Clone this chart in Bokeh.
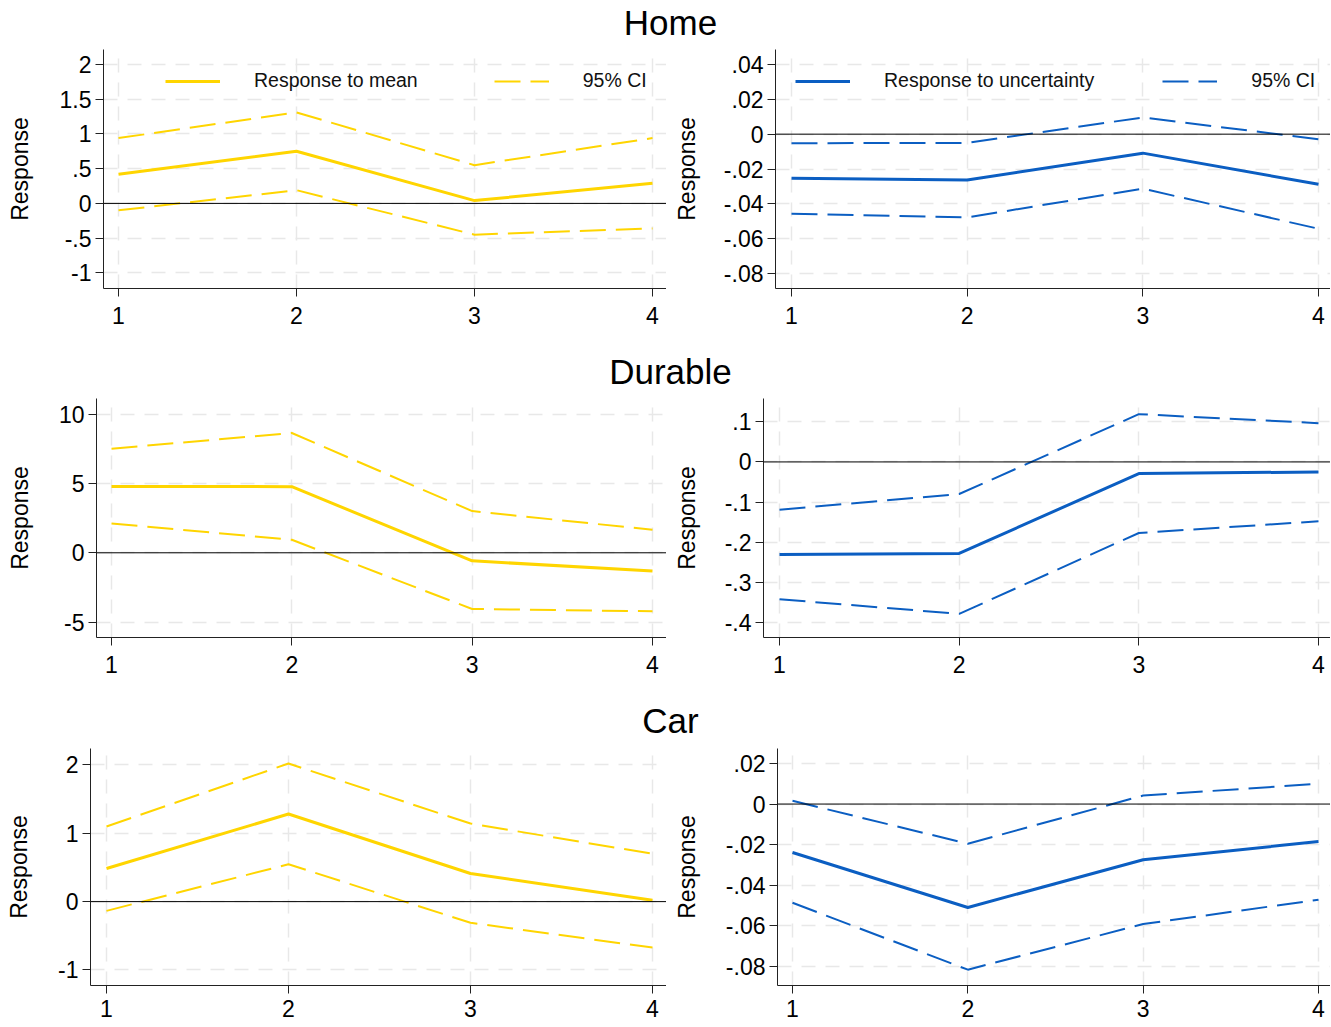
from bokeh.plotting import figure
from bokeh.models import FixedTicker, CustomJSTickFormatter, Span, Legend, LegendItem, Range1d
from bokeh.layouts import column, row
from bokeh.embed import file_html
from bokeh.resources import INLINE
from bokeh.core.properties import value

# ---------------- data ----------------
horizons = [1, 2, 3, 4]
row_titles = ["Home", "Durable", "Car"]

home_mean = [0.42, 0.75, 0.04, 0.29]
home_mean_up = [0.94, 1.31, 0.55, 0.94]
home_mean_lo = [-0.10, 0.19, -0.45, -0.36]

home_unc = [-0.0253, -0.0263, -0.0109, -0.0288]
home_unc_up = [-0.0052, -0.0050, 0.0096, -0.0029]
home_unc_lo = [-0.0457, -0.0478, -0.0313, -0.0543]

dur_mean = [4.79, 4.77, -0.58, -1.32]
dur_mean_up = [7.51, 8.64, 3.01, 1.66]
dur_mean_lo = [2.12, 0.94, -4.05, -4.22]

dur_unc = [-0.2305, -0.228, -0.029, -0.025]
dur_unc_up = [-0.119, -0.080, 0.119, 0.0965]
dur_unc_lo = [-0.342, -0.3785, -0.177, -0.148]

car_mean = [0.484, 1.282, 0.411, 0.019]
car_mean_up = [1.098, 2.02, 1.142, 0.70]
car_mean_lo = [-0.135, 0.547, -0.31, -0.672]

car_unc = [-0.0239, -0.051, -0.0275, -0.0185]
car_unc_up = [0.0016, -0.0196, 0.0042, 0.010]
car_unc_lo = [-0.0487, -0.0817, -0.0592, -0.0472]

ticks_home_mean = [-1, -0.5, 0, 0.5, 1, 1.5, 2]
ticks_home_unc = [-0.08, -0.06, -0.04, -0.02, 0, 0.02, 0.04]
ticks_dur_mean = [-5, 0, 5, 10]
ticks_dur_unc = [-0.4, -0.3, -0.2, -0.1, 0, 0.1]
ticks_car_mean = [-1, 0, 1, 2]
ticks_car_unc = [-0.08, -0.06, -0.04, -0.02, 0, 0.02]

legend_mean_label = "Response to mean"
legend_unc_label = "Response to uncertainty"
legend_ci_label = "95% CI"
y_label = "Response"

# ---------------- style ----------------
FONT = "Liberation Sans"
YELLOW = "#FFD500"
BLUE = "#0B5EC2"
GRID = "#e8e8e8"
AXIS = "#222222"
TICK_PX = 23
LEFT_W, RIGHT_W = 666, 664

CHAR_W = {"0": .556, "1": .556, "2": .556, "3": .556, "4": .556, "5": .556,
          "6": .556, "7": .556, "8": .556, "9": .556, ".": .278, "-": .333}


def stata_label(v):
    s = ("%g" % v)
    if s.startswith("0."):
        s = s[1:]
    elif s.startswith("-0."):
        s = "-" + s[2:]
    return s


def label_width(ticks):
    return max(sum(CHAR_W.get(c, .556) for c in stata_label(t)) for t in ticks) * TICK_PX


fmt_code = """
var s = String(Math.round(tick*1e6)/1e6);
return s.replace(/^(-?)0\\./, "$1.");
"""


def make_panel(side, frame_geom, ticks, yr, mean, up, lo, color, height, top, bottom, xstand=10,
               legend_label=None, spacing=70):
    # frame_geom: (frame left px, px of x=1, px of x=4) inside this figure
    fl, t1, t4 = frame_geom
    width = LEFT_W if side == "left" else RIGHT_W
    unit = (t4 - t1) / 3.0
    xr = Range1d(1 - (t1 - fl) / unit, 4 + (width - t4) / unit)
    center_target = 22 if side == "left" else 23
    p = figure(width=width, height=height, output_backend="svg", toolbar_location=None,
               x_range=xr, y_range=Range1d(*yr),
               min_border_left=fl, min_border_right=0, min_border_top=top,
               min_border_bottom=bottom)
    p.outline_line_color = None
    p.background_fill_color = "white"
    p.border_fill_color = "white"

    for g in (p.xgrid, p.ygrid):
        g.grid_line_color = GRID
        g.grid_line_width = 1.5
        g.grid_line_dash = "14 10"

    p.add_layout(Span(location=0, dimension="width", line_color="black", line_width=1))

    r_mean = p.line(horizons, mean, line_color=color, line_width=3)
    r_up = p.line(horizons, up, line_color=color, line_width=2, line_dash="26 10")
    p.line(horizons, lo, line_color=color, line_width=2, line_dash="26 10")

    for ax in (p.xaxis[0], p.yaxis[0]):
        ax.axis_line_color = AXIS
        ax.axis_line_width = 1
        ax.major_tick_line_color = AXIS
        ax.major_tick_out = 8
        ax.major_tick_in = 0
        ax.minor_tick_line_color = None
        ax.major_label_text_font = FONT
        ax.major_label_text_font_size = "%dpx" % TICK_PX
        ax.major_label_text_color = "black"
    p.xaxis.ticker = FixedTicker(ticks=horizons)
    p.xaxis.major_label_standoff = xstand
    p.yaxis.ticker = FixedTicker(ticks=ticks)
    p.yaxis.formatter = CustomJSTickFormatter(code=fmt_code)
    p.yaxis.major_label_standoff = 4
    p.yaxis.axis_label = y_label
    p.yaxis.axis_label_text_font = FONT
    p.yaxis.axis_label_text_font_size = "23px"
    p.yaxis.axis_label_text_font_style = "normal"
    p.yaxis.axis_label_text_color = "black"
    tick_right = fl - 8 - 4
    p.yaxis.axis_label_standoff = int(round(tick_right - label_width(ticks) - center_target - 13))

    if legend_label is not None:
        frame_h = height - top - bottom
        leg = Legend(items=[LegendItem(label=legend_label, renderers=[r_mean]),
                            LegendItem(label=legend_ci_label, renderers=[r_up])],
                     orientation="horizontal",
                     location=(165 - 103 if side == "left" else 795 - 775, frame_h - 32 - 11),
                     glyph_width=55, glyph_height=20, label_standoff=34,
                     spacing=spacing, padding=0, margin=0,
                     background_fill_alpha=0, border_line_alpha=0,
                     label_text_font=FONT, label_text_font_size="19.5px",
                     label_text_color="#111111")
        p.add_layout(leg)
    return p


def make_title(text):
    t = figure(width=LEFT_W + RIGHT_W, height=44, output_backend="svg", toolbar_location=None,
               x_range=Range1d(0, LEFT_W + RIGHT_W), y_range=Range1d(0, 44), min_border=0)
    t.axis.visible = False
    t.grid.visible = False
    t.outline_line_color = None
    t.text(x=[670], y=[22], text=[text], text_align="center", text_baseline="middle",
           text_font=value(FONT), text_font_size="35px", text_color="black")
    return t


# frame geometry per panel (left edge, x=1, x=4) in each figure's own pixels
g1 = (103, 118, 652)
g2 = (775 - 666, 791 - 666, 1318 - 666)
g3 = (96, 111, 652)
g4 = (763 - 666, 779 - 666, 1318 - 666)
g5 = (90, 106, 652)
g6 = (777 - 666, 792 - 666, 1318 - 666)

p1 = make_panel("left", g1, ticks_home_mean, (-1.225, 2.215), home_mean, home_mean_up, home_mean_lo,
                YELLOW, 305, 5, 61, legend_label=legend_mean_label, spacing=76)
p2 = make_panel("right", g2, ticks_home_unc, (-0.0886, 0.0486), home_unc, home_unc_up, home_unc_lo,
                BLUE, 305, 5, 61, legend_label=legend_unc_label, spacing=68)
p3 = make_panel("left", g3, ticks_dur_mean, (-6.11, 11.13), dur_mean, dur_mean_up, dur_mean_lo,
                YELLOW, 305, 5, 61)
p4 = make_panel("right", g4, ticks_dur_unc, (-0.4374, 0.158), dur_unc, dur_unc_up, dur_unc_lo,
                BLUE, 305, 5, 61)
p5 = make_panel("left", g5, ticks_car_mean, (-1.227, 2.24), car_mean, car_mean_up, car_mean_lo,
                YELLOW, 284, 6, 41, xstand=6)
p6 = make_panel("right", g6, ticks_car_unc, (-0.0895, 0.0274), car_unc, car_unc_up, car_unc_lo,
                BLUE, 284, 6, 41, xstand=6)

layout = column(
    make_title(row_titles[0]), row(p1, p2),
    make_title(row_titles[1]), row(p3, p4),
    make_title(row_titles[2]), row(p5, p6),
)

open("out.html", "w").write(file_html(layout, INLINE))
